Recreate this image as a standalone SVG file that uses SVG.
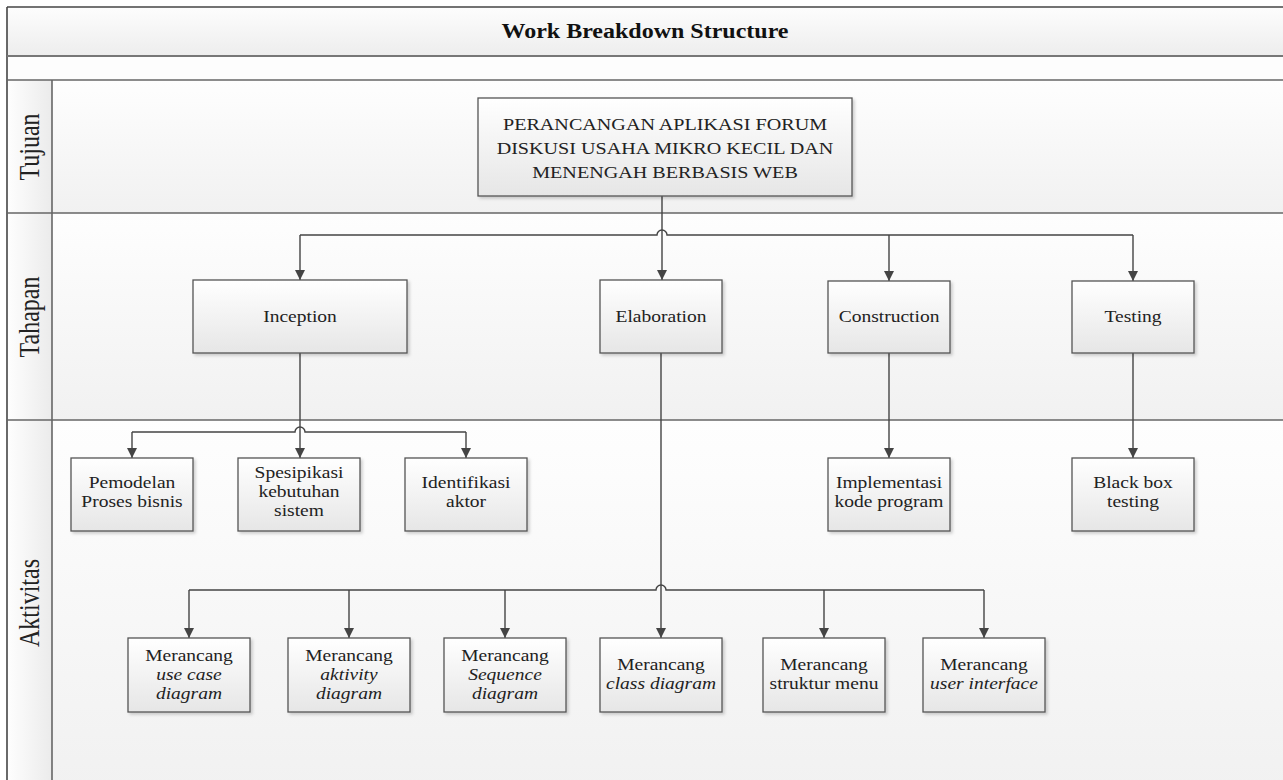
<svg xmlns="http://www.w3.org/2000/svg" width="1283" height="780" viewBox="0 0 1283 780">
<defs>
<linearGradient id="gTitle" x1="0" y1="0" x2="0" y2="1"><stop offset="0" stop-color="#fdfdfd"/><stop offset="1" stop-color="#ededed"/></linearGradient>
<linearGradient id="gLane" x1="0" y1="0" x2="0" y2="1"><stop offset="0" stop-color="#fefefe"/><stop offset="1" stop-color="#f1f1f1"/></linearGradient>
<linearGradient id="gLabel" x1="0" y1="0" x2="1" y2="0"><stop offset="0" stop-color="#fefefe"/><stop offset="1" stop-color="#ebebeb"/></linearGradient>
<linearGradient id="gBox" x1="0" y1="0" x2="0" y2="1"><stop offset="0" stop-color="#ffffff"/><stop offset="1" stop-color="#e6e6e6"/></linearGradient>
<filter id="sh" x="-10%" y="-10%" width="130%" height="130%"><feDropShadow dx="2" dy="2" stdDeviation="1.5" flood-color="#000" flood-opacity="0.18"/></filter>
<marker id="arr" viewBox="0 0 10 10" refX="10" refY="5" markerWidth="11" markerHeight="10" markerUnits="userSpaceOnUse" orient="auto"><path d="M0,0 L10,5 L0,10 z" fill="#444"/></marker>
</defs>
<style>
.box{fill:url(#gBox);stroke:#555;stroke-width:1.3;filter:url(#sh)}
.t{font-family:"Liberation Serif","Times New Roman",serif;font-size:16px;fill:#222;text-anchor:middle}
.i{font-style:italic}
.lane{font-family:"Liberation Serif","Times New Roman",serif;font-size:24px;fill:#222;text-anchor:middle}
.c{fill:none;stroke:#444;stroke-width:1.4}
.ca{fill:none;stroke:#444;stroke-width:1.4;marker-end:url(#arr)}
.div{stroke:#666;stroke-width:1.6}
</style>
<rect width="1283" height="780" fill="#ffffff"/>
<g id="frame">
<rect x="7" y="7" width="1290" height="49" fill="url(#gTitle)"/>
<rect x="7" y="56" width="1290" height="24" fill="#fdfdfd"/>
<rect x="52" y="80" width="1240" height="133" fill="url(#gLane)"/>
<rect x="52" y="213" width="1240" height="207" fill="url(#gLane)"/>
<rect x="52" y="420" width="1240" height="370" fill="url(#gLane)"/>
<rect x="7" y="80" width="45" height="133" fill="url(#gLabel)"/>
<rect x="7" y="213" width="45" height="207" fill="url(#gLabel)"/>
<rect x="7" y="420" width="45" height="370" fill="url(#gLabel)"/>
<line x1="7" y1="7" x2="1290" y2="7" stroke="#444" stroke-width="1.6"/>
<line x1="7" y1="7" x2="7" y2="790" stroke="#444" stroke-width="1.6"/>
<line x1="7" y1="56" x2="1290" y2="56" stroke="#777" stroke-width="2.2"/>
<line class="div" x1="7" y1="80" x2="1290" y2="80"/>
<line class="div" x1="7" y1="213" x2="1290" y2="213"/>
<line class="div" x1="7" y1="420" x2="1290" y2="420"/>
<line class="div" x1="52" y1="80" x2="52" y2="790"/>
<text transform="translate(645,0) scale(1.2,1)" x="0" y="38" style="font-family:'Liberation Serif','Times New Roman',serif;font-size:20px;font-weight:bold;fill:#111;text-anchor:middle">Work Breakdown Structure</text>
<text class="lane" transform="translate(29.5,147) scale(1.2,1) rotate(-90)" x="0" y="8">Tujuan</text>
<text class="lane" transform="translate(29.5,317) scale(1.2,1) rotate(-90)" x="0" y="8">Tahapan</text>
<text class="lane" transform="translate(29.5,603) scale(1.2,1) rotate(-90)" x="0" y="8">Aktivitas</text>
</g>
<g id="connectors">
<path class="ca" d="M662,196 V280"/>
<path class="c" d="M300,235 H657 A5,5 0 0 1 667,235 H1133"/>
<path class="ca" d="M300,235 V280"/>
<path class="ca" d="M889,235 V281"/>
<path class="ca" d="M1133,235 V281"/>
<path class="ca" d="M300,353 V458"/>
<path class="c" d="M132,432 H295 A5,5 0 0 1 305,432 H466"/>
<path class="ca" d="M132,432 V458"/>
<path class="ca" d="M466,432 V458"/>
<path class="ca" d="M889,353 V458"/>
<path class="ca" d="M1133,353 V458"/>
<path class="ca" d="M661,353 V638"/>
<path class="c" d="M189,590 H656 A5,5 0 0 1 666,590 H984"/>
<path class="ca" d="M189,590 V638"/>
<path class="ca" d="M349,590 V638"/>
<path class="ca" d="M505,590 V638"/>
<path class="ca" d="M824,590 V638"/>
<path class="ca" d="M984,590 V638"/>
</g>
<g id="n-main"><rect class="box" x="478" y="98" width="374" height="98"/>
<text class="t" style="font-size:16.5px" transform="translate(665,0) scale(1.22,1)"><tspan x="0" y="130">PERANCANGAN APLIKASI FORUM</tspan><tspan x="0" y="154">DISKUSI USAHA MIKRO KECIL DAN</tspan><tspan x="0" y="178">MENENGAH BERBASIS WEB</tspan></text></g>
<g id="n-inception"><rect class="box" x="193" y="280" width="214" height="73"/><text class="t" transform="translate(300,0) scale(1.22,1)" x="0" y="322">Inception</text></g>
<g id="n-elaboration"><rect class="box" x="600" y="280" width="122" height="73"/><text class="t" transform="translate(661,0) scale(1.22,1)" x="0" y="322">Elaboration</text></g>
<g id="n-construction"><rect class="box" x="828" y="281" width="122" height="72"/><text class="t" transform="translate(889,0) scale(1.22,1)" x="0" y="322">Construction</text></g>
<g id="n-testing"><rect class="box" x="1072" y="281" width="122" height="72"/><text class="t" transform="translate(1133,0) scale(1.22,1)" x="0" y="322">Testing</text></g>
<g id="n-pemodelan"><rect class="box" x="71" y="458" width="122" height="73"/><text class="t" transform="translate(132,0) scale(1.22,1)"><tspan x="0" y="488">Pemodelan</tspan><tspan x="0" y="507">Proses bisnis</tspan></text></g>
<g id="n-spesipikasi"><rect class="box" x="238" y="458" width="122" height="73"/><text class="t" transform="translate(299,0) scale(1.22,1)"><tspan x="0" y="478">Spesipikasi</tspan><tspan x="0" y="497">kebutuhan</tspan><tspan x="0" y="516">sistem</tspan></text></g>
<g id="n-identifikasi"><rect class="box" x="405" y="458" width="122" height="73"/><text class="t" transform="translate(466,0) scale(1.22,1)"><tspan x="0" y="488">Identifikasi</tspan><tspan x="0" y="507">aktor</tspan></text></g>
<g id="n-implementasi"><rect class="box" x="828" y="458" width="122" height="73"/><text class="t" transform="translate(889,0) scale(1.22,1)"><tspan x="0" y="488">Implementasi</tspan><tspan x="0" y="507">kode program</tspan></text></g>
<g id="n-blackbox"><rect class="box" x="1072" y="458" width="122" height="73"/><text class="t" transform="translate(1133,0) scale(1.22,1)"><tspan x="0" y="488">Black box</tspan><tspan x="0" y="507">testing</tspan></text></g>
<g id="n-usecase"><rect class="box" x="128" y="638" width="122" height="74"/><text class="t" transform="translate(189,0) scale(1.22,1)"><tspan x="0" y="661">Merancang</tspan><tspan class="i" x="0" y="680">use case</tspan><tspan class="i" x="0" y="699">diagram</tspan></text></g>
<g id="n-aktivity"><rect class="box" x="288" y="638" width="122" height="74"/><text class="t" transform="translate(349,0) scale(1.22,1)"><tspan x="0" y="661">Merancang</tspan><tspan class="i" x="0" y="680">aktivity</tspan><tspan class="i" x="0" y="699">diagram</tspan></text></g>
<g id="n-sequence"><rect class="box" x="444" y="638" width="122" height="74"/><text class="t" transform="translate(505,0) scale(1.22,1)"><tspan x="0" y="661">Merancang</tspan><tspan class="i" x="0" y="680">Sequence</tspan><tspan class="i" x="0" y="699">diagram</tspan></text></g>
<g id="n-class"><rect class="box" x="600" y="638" width="122" height="74"/><text class="t" transform="translate(661,0) scale(1.22,1)"><tspan x="0" y="670">Merancang</tspan><tspan class="i" x="0" y="689">class diagram</tspan></text></g>
<g id="n-struktur"><rect class="box" x="763" y="638" width="122" height="74"/><text class="t" transform="translate(824,0) scale(1.22,1)"><tspan x="0" y="670">Merancang</tspan><tspan x="0" y="689">struktur menu</tspan></text></g>
<g id="n-ui"><rect class="box" x="923" y="638" width="122" height="74"/><text class="t" transform="translate(984,0) scale(1.22,1)"><tspan x="0" y="670">Merancang</tspan><tspan class="i" x="0" y="689">user interface</tspan></text></g>
</svg>
